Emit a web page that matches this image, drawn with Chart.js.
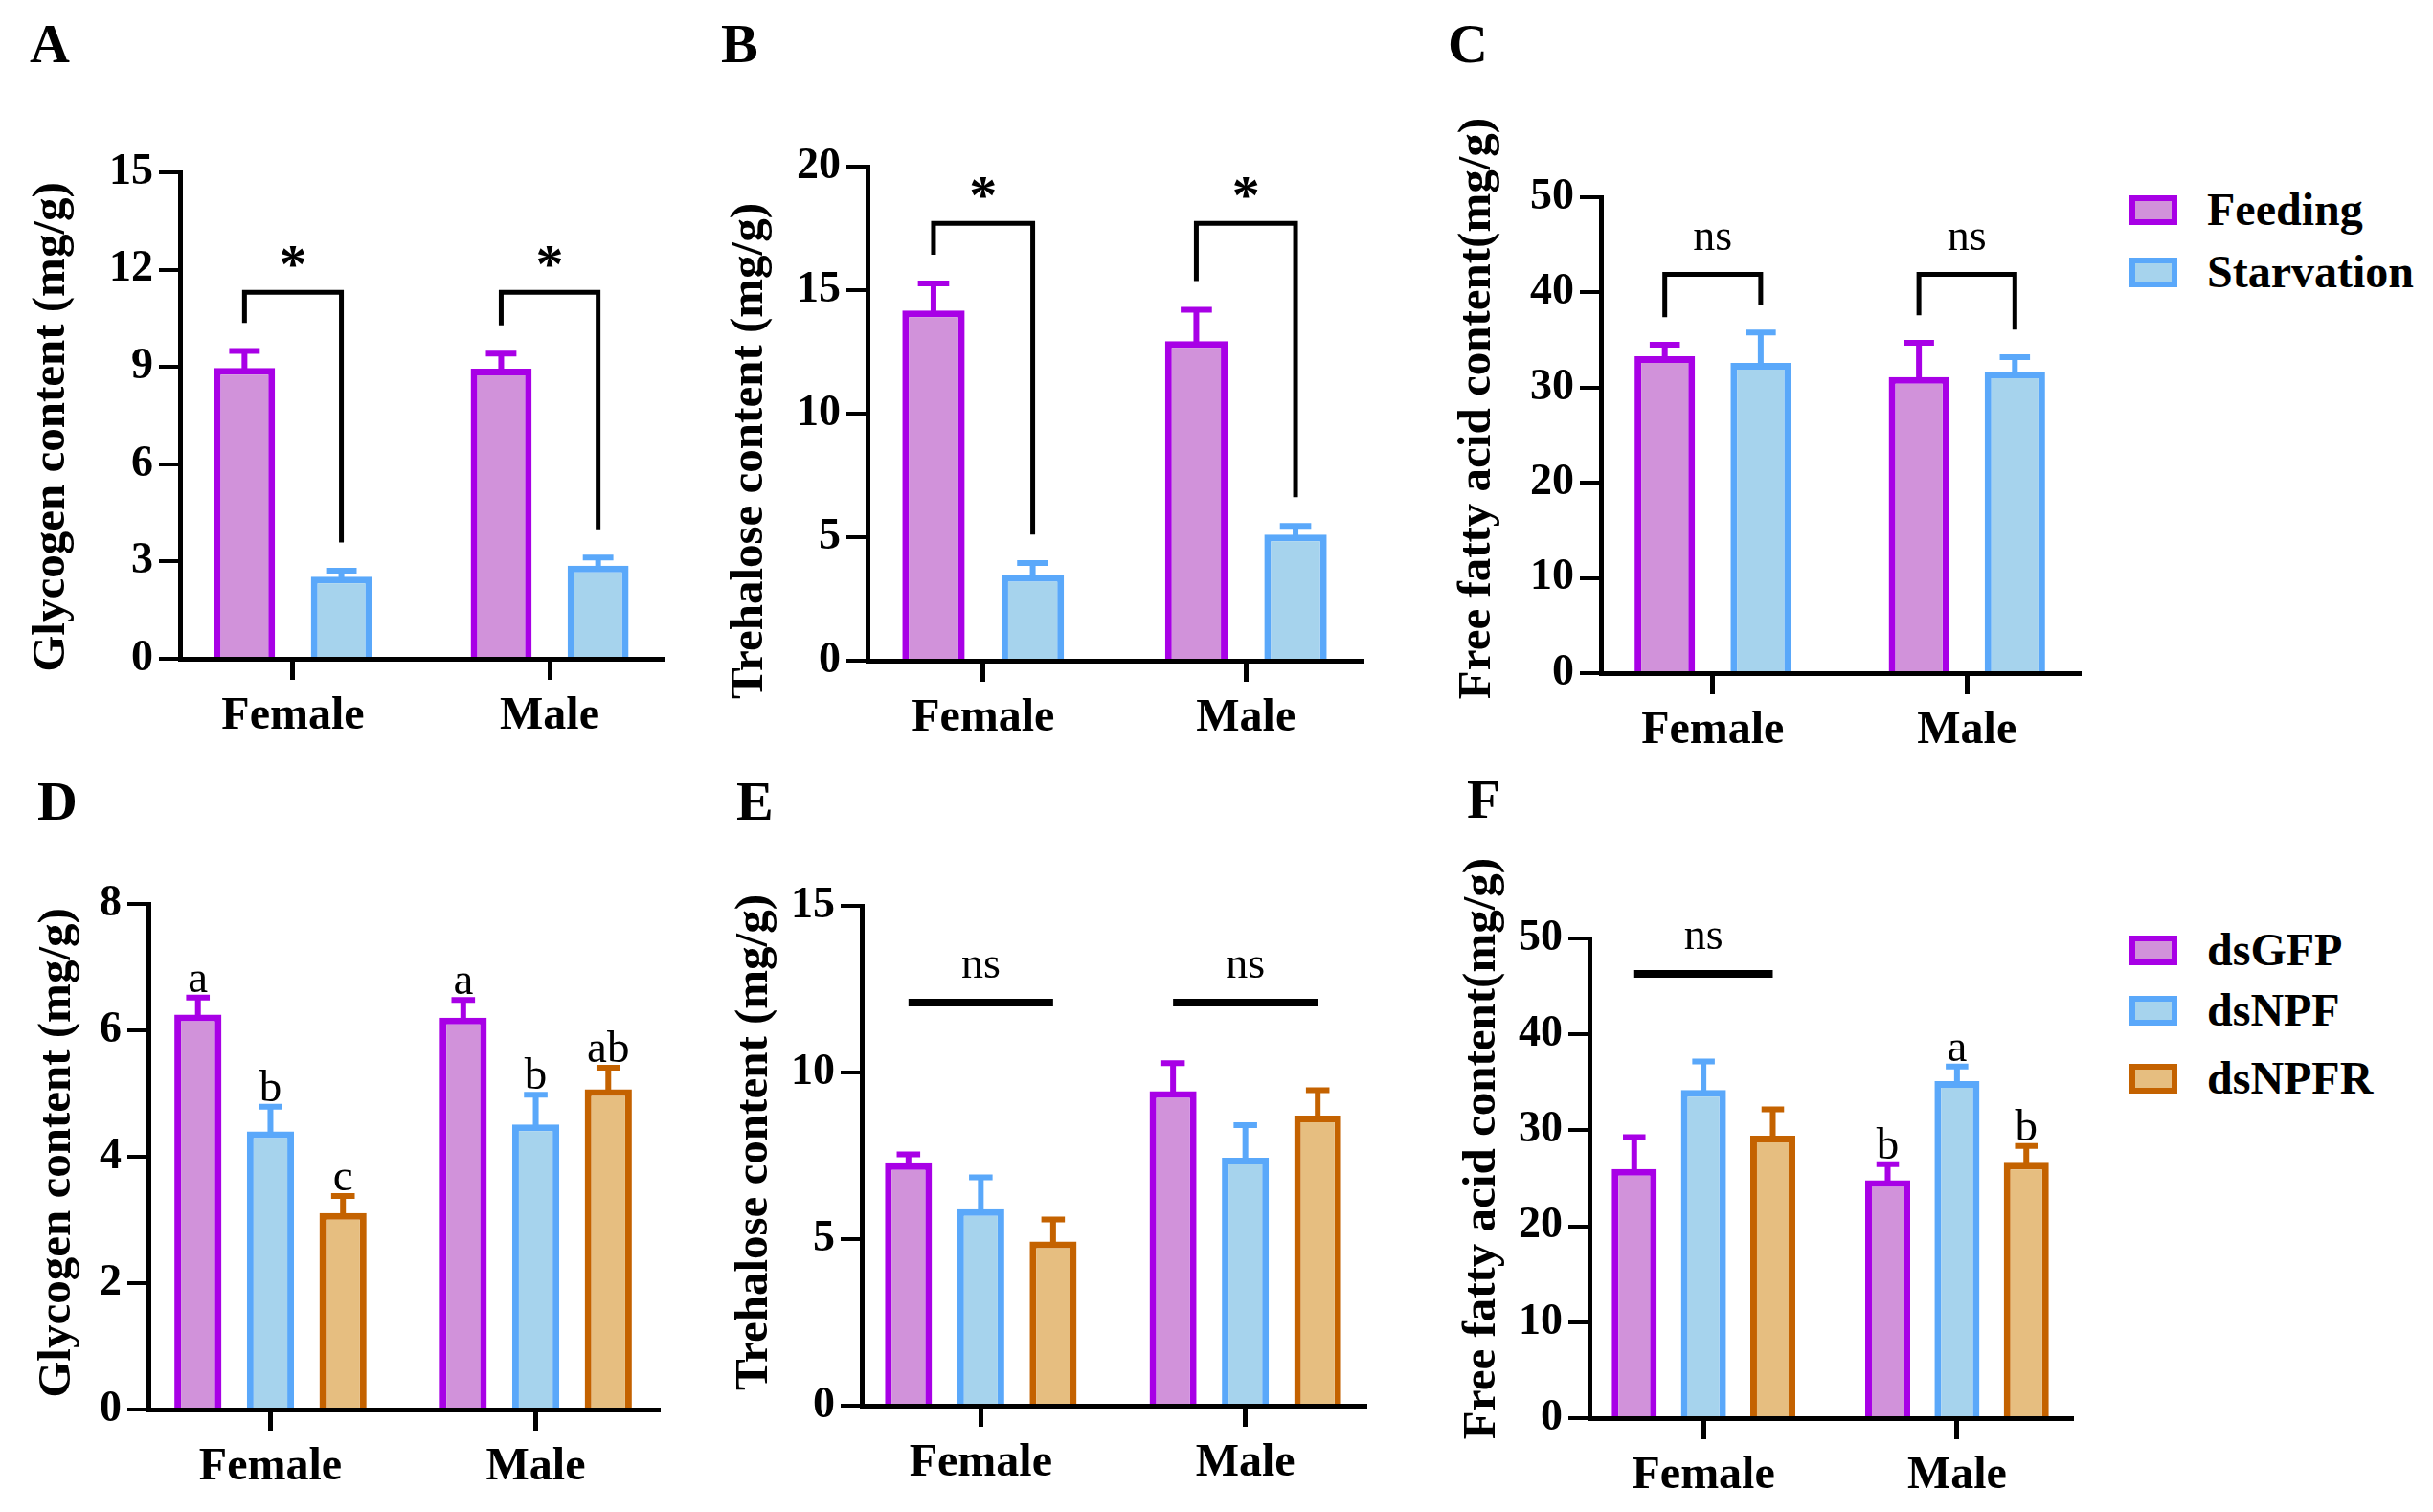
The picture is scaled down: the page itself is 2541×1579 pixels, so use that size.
<!DOCTYPE html>
<html>
<head>
<meta charset="utf-8">
<script src="https://cdn.jsdelivr.net/npm/chart.js"></script>
<style>
  body { margin: 0; background: #fff; }
  #fig { position: relative; width: 2541px; height: 1579px; overflow: hidden;
         font-family: 'Liberation Serif', 'Times New Roman', serif; color: #000; }
  #fig canvas { position: absolute; }
  .tag { position: absolute; font-size: 58px; font-weight: bold; line-height: 1; }
  .key { position: absolute; box-sizing: border-box; width: 50px; height: 31px; border: 6px solid; }
  .keytxt { position: absolute; font-size: 48px; font-weight: bold; line-height: 1; white-space: nowrap; }
</style>
</head>
<body>
<div id="fig"></div>
<script>
// categories and groups
const sexes = ['Female', 'Male'];
const dietGroups = ['Feeding', 'Starvation'];
const rnaiGroups = ['dsGFP', 'dsNPF', 'dsNPFR'];

// A - glycogen (mg/g), mean and error
const glyFeed = [8.97, 8.95], glyFeedErr = [0.52, 0.46];
const glyStarve = [2.53, 2.87], glyStarveErr = [0.19, 0.25];
// B - trehalose (mg/g)
const treFeed = [14.18, 12.94], treFeedErr = [1.09, 1.27];
const treStarve = [3.47, 5.11], treStarveErr = [0.48, 0.35];
// C - free fatty acid (mg/g)
const ffaFeed = [33.3, 31.1], ffaFeedErr = [1.2, 3.6];
const ffaStarve = [32.6, 31.7], ffaStarveErr = [3.2, 1.5];
// D - glycogen after RNAi
const glyGFP = [6.25, 6.20], glyGFPErr = [0.27, 0.28];
const glyNPF = [4.40, 4.51], glyNPFErr = [0.39, 0.47];
const glyNPFR = [3.11, 5.07], glyNPFRErr = [0.27, 0.34];
// E - trehalose after RNAi
const treGFP = [7.28, 9.44], treGFPErr = [0.26, 0.84];
const treNPF = [5.90, 7.44], treNPFErr = [0.95, 0.98];
const treNPFR = [4.93, 8.71], treNPFRErr = [0.66, 0.76];
// F - free fatty acid after RNAi
const ffaGFP = [25.97, 24.8], ffaGFPErr = [3.31, 1.68];
const ffaNPF = [34.2, 35.13], ffaNPFErr = [2.97, 1.53];
const ffaNPFR = [29.43, 26.63], ffaNPFRErr = [2.75, 1.73];

// y tick labels
const ticksA = [0, 3, 6, 9, 12, 15];
const ticksB = [0, 5, 10, 15, 20];
const ticksC = [0, 10, 20, 30, 40, 50];
const ticksD = [0, 2, 4, 6, 8];
const ticksE = [0, 5, 10, 15];
const ticksF = [0, 10, 20, 30, 40, 50];

// significance
const marksA = ['*', '*'], bracketA = 11.3;
const marksB = ['*', '*'], bracketB = 17.7;
const marksC = ['ns', 'ns'], bracketC = 41.9;
const lettersD = [['a', 'a'], ['b', 'b'], ['c', 'ab']];
const nsE = ['ns', 'ns'], nsLineE = [12.1, 12.1];
const nsF = ['ns', ''], nsLineF = [46.3, null];
const lettersF = [['', 'b'], ['', 'a'], ['', 'b']];

const purple = { fill: '#D192DA', line: '#A800E6' };
const blue = { fill: '#A6D3ED', line: '#5AA8FA' };
const orange = { fill: '#E6BE80', line: '#C46200' };
const FONT = "'Liberation Serif'";

function series(label, values, err, col) {
  return { label: label, data: values, err: err, backgroundColor: col.fill,
           borderColor: col.line, borderWidth: 7, borderSkipped: 'start' };
}

const panels = [
  { title: 'Glycogen content (mg/g)', ticks: ticksA, bracket: bracketA, marks: marksA,
    sets: [series(dietGroups[0], glyFeed, glyFeedErr, purple), series(dietGroups[1], glyStarve, glyStarveErr, blue)],
    box: { axisX: 188, top: 180, bottom: 688, right: 692, m: 0.44, tdx: 134, tdy: 12 } },
  { title: 'Trehalose content (mg/g)', ticks: ticksB, bracket: bracketB, marks: marksB,
    sets: [series(dietGroups[0], treFeed, treFeedErr, purple), series(dietGroups[1], treStarve, treStarveErr, blue)],
    box: { axisX: 906, top: 174, bottom: 690, right: 1422, m: 0.44, tdx: 123, tdy: 39 } },
  { title: 'Free fatty acid content(mg/g)', ticks: ticksC, bracket: bracketC, marks: marksC,
    sets: [series(dietGroups[0], ffaFeed, ffaFeedErr, purple), series(dietGroups[1], ffaStarve, ffaStarveErr, blue)],
    box: { axisX: 1672, top: 206, bottom: 703, right: 2171, m: 0.44, tdx: 129, tdy: -28 } },
  { title: 'Glycogen content (mg/g)', ticks: ticksD, letters: lettersD,
    sets: [series(rnaiGroups[0], glyGFP, glyGFPErr, purple), series(rnaiGroups[1], glyNPF, glyNPFErr, blue),
           series(rnaiGroups[2], glyNPFR, glyNPFRErr, orange)],
    box: { axisX: 155, top: 944, bottom: 1472, right: 687, m: 0.46, tdx: 95, tdy: -4 } },
  { title: 'Trehalose content (mg/g)', ticks: ticksE, ns: nsE, nsLine: nsLineE,
    sets: [series(rnaiGroups[0], treGFP, treGFPErr, purple), series(rnaiGroups[1], treNPF, treNPFErr, blue),
           series(rnaiGroups[2], treNPFR, treNPFRErr, orange)],
    box: { axisX: 900, top: 946, bottom: 1468, right: 1425, m: 0.45, tdx: 112, tdy: -14 } },
  { title: 'Free fatty acid content(mg/g)', ticks: ticksF, ns: nsF, nsLine: nsLineF, letters: lettersF,
    sets: [series(rnaiGroups[0], ffaGFP, ffaGFPErr, purple), series(rnaiGroups[1], ffaNPF, ffaNPFErr, blue),
           series(rnaiGroups[2], ffaNPFR, ffaNPFRErr, orange)],
    box: { axisX: 1660, top: 980, bottom: 1481, right: 2163, m: 0.45, tdx: 112, tdy: -31 } }
];

// text centred on a point using the real glyph box
function centred(ctx, s, x, cy, font) {
  ctx.font = font;
  ctx.textAlign = 'center';
  ctx.textBaseline = 'alphabetic';
  const mt = ctx.measureText(s);
  ctx.fillText(s, x, cy + (mt.actualBoundingBoxAscent - mt.actualBoundingBoxDescent) / 2);
}

function makeExtras(p) {
  return {
    id: 'extras',
    afterDatasetsDraw(chart) {
      const ctx = chart.ctx, y = chart.scales.y;
      // error bars, upward only
      p.sets.forEach((ds, i) => {
        chart.getDatasetMeta(i).data.forEach((bar, j) => {
          const top = y.getPixelForValue(ds.data[j] + ds.err[j]);
          const half = bar.width / 4;
          ctx.save();
          ctx.strokeStyle = ds.borderColor;
          ctx.lineWidth = 6;
          ctx.beginPath();
          ctx.moveTo(bar.x, bar.y + 4);
          ctx.lineTo(bar.x, top);
          ctx.moveTo(bar.x - half, top);
          ctx.lineTo(bar.x + half, top);
          ctx.stroke();
          ctx.restore();
        });
      });
    },
    afterDraw(chart) {
      const ctx = chart.ctx, y = chart.scales.y, ca = chart.chartArea;
      const px = v => y.getPixelForValue(v);
      const yMax = p.ticks[p.ticks.length - 1];
      ctx.save();
      ctx.fillStyle = '#000';
      ctx.strokeStyle = '#000';

      // y axis title
      ctx.save();
      ctx.translate(ca.left - p.box.tdx, (ca.top + ca.bottom) / 2 + p.box.tdy);
      ctx.rotate(-Math.PI / 2);
      ctx.font = 'bold 49px ' + FONT;
      ctx.textAlign = 'center';
      ctx.textBaseline = 'middle';
      ctx.fillText(p.title, 0, 0);
      ctx.restore();

      // brackets between the two diet groups
      if (p.bracket !== undefined) {
        const a = chart.getDatasetMeta(0).data, b = chart.getDatasetMeta(1).data;
        const gap = 0.058 * yMax;
        const d0 = p.sets[0], d1 = p.sets[1];
        sexes.forEach((s, j) => {
          const yl = px(d0.data[j] + d0.err[j] + gap);
          const yr = px(d1.data[j] + d1.err[j] + gap);
          const yt = px(p.bracket);
          ctx.lineWidth = 5;
          ctx.lineJoin = 'miter';
          ctx.beginPath();
          ctx.moveTo(a[j].x, yl);
          ctx.lineTo(a[j].x, yt);
          ctx.lineTo(b[j].x, yt);
          ctx.lineTo(b[j].x, yr);
          ctx.stroke();
          const f = p.marks[j] === '*' ? 'bold 58px ' + FONT : '46px ' + FONT;
          centred(ctx, p.marks[j], (a[j].x + b[j].x) / 2, yt - 37, f);
        });
      }

      // flat "ns" lines across a group
      if (p.nsLine) {
        const first = chart.getDatasetMeta(0).data, last = chart.getDatasetMeta(p.sets.length - 1).data;
        p.nsLine.forEach((v, j) => {
          if (v === null) return;
          const yl = px(v);
          ctx.lineWidth = 8;
          ctx.beginPath();
          ctx.moveTo(first[j].x, yl);
          ctx.lineTo(last[j].x, yl);
          ctx.stroke();
          centred(ctx, p.ns[j], (first[j].x + last[j].x) / 2, yl - 37, '46px ' + FONT);
        });
      }

      // letters above bars
      if (p.letters) {
        ctx.font = '47px ' + FONT;
        ctx.textAlign = 'center';
        ctx.textBaseline = 'alphabetic';
        p.letters.forEach((row, i) => {
          const ds = p.sets[i], meta = chart.getDatasetMeta(i).data;
          row.forEach((t, j) => {
            if (!t) return;
            ctx.fillText(t, meta[j].x, px(ds.data[j] + ds.err[j]) - 6);
          });
        });
      }
      ctx.restore();
    }
  };
}

const fig = document.getElementById('fig');
const Y_W = 180, PAD_T = 150, PAD_R = 30, X_H = 110;

panels.forEach(p => {
  const b = p.box;
  const x0 = b.axisX - Y_W, y0 = b.top - PAD_T;
  const w = b.right + PAD_R - x0, h = b.bottom + X_H - y0;
  const cv = document.createElement('canvas');
  cv.width = w; cv.height = h;
  cv.style.left = x0 + 'px'; cv.style.top = y0 + 'px';
  cv.style.width = w + 'px'; cv.style.height = h + 'px';
  fig.appendChild(cv);
  const three = p.sets.length === 3;

  new Chart(cv, {
    type: 'bar',
    data: { labels: sexes, datasets: p.sets },
    options: {
      responsive: false,
      animation: false,
      devicePixelRatio: 1,
      layout: { padding: { top: PAD_T, right: PAD_R, left: 0, bottom: 0 } },
      datasets: { bar: { categoryPercentage: three ? 0.82 : 0.755, barPercentage: three ? 0.65 : 0.63 } },
      plugins: { legend: { display: false }, tooltip: { enabled: false } },
      scales: {
        x: {
          type: 'category',
          offset: false,
          afterBuildTicks: s => { s._startValue = -b.m; s._valueRange = 1 + 2 * b.m; },
          afterFit: s => { s.height = X_H; },
          grid: { drawOnChartArea: false, offset: false, tickLength: 22, lineWidth: 5, color: '#000' },
          border: { color: '#000', width: 5, z: 1 },
          ticks: { color: '#000', padding: 10, maxRotation: 0, font: { family: FONT, size: 48, weight: 'bold' } }
        },
        y: {
          min: p.ticks[0],
          max: p.ticks[p.ticks.length - 1],
          afterBuildTicks: s => { s.ticks = p.ticks.map(v => ({ value: v })); },
          afterFit: s => { s.width = Y_W; },
          grid: { drawOnChartArea: false, tickLength: 22, lineWidth: 4, color: '#000' },
          border: { color: '#000', width: 5, z: 1 },
          ticks: { color: '#000', padding: 6, font: { family: FONT, size: 46, weight: 'bold' } }
        }
      }
    },
    plugins: [makeExtras(p)]
  });
});

// panel letters
const tags = [['A', 33, 27], ['B', 755, 27], ['C', 1514, 27], ['D', 41, 818], ['E', 771, 818], ['F', 1534, 816]];
tags.forEach(t => {
  const d = document.createElement('div');
  d.className = 'tag';
  d.textContent = t[0];
  d.style.left = (t[1] - 2) + 'px';
  d.style.top = (t[2] - 10) + 'px';
  fig.appendChild(d);
});

// legends
const keys = [[dietGroups[0], purple, 204], [dietGroups[1], blue, 269],
              [rnaiGroups[0], purple, 977], [rnaiGroups[1], blue, 1040], [rnaiGroups[2], orange, 1111]];
keys.forEach(k => {
  const box = document.createElement('div');
  box.className = 'key';
  box.style.left = '2224px';
  box.style.top = k[2] + 'px';
  box.style.background = k[1].fill;
  box.style.borderColor = k[1].line;
  fig.appendChild(box);
  const txt = document.createElement('div');
  txt.className = 'keytxt';
  txt.textContent = k[0];
  txt.style.left = '2305px';
  txt.style.top = (k[2] + 15 - 24) + 'px';
  fig.appendChild(txt);
});
</script>
</body>
</html>
